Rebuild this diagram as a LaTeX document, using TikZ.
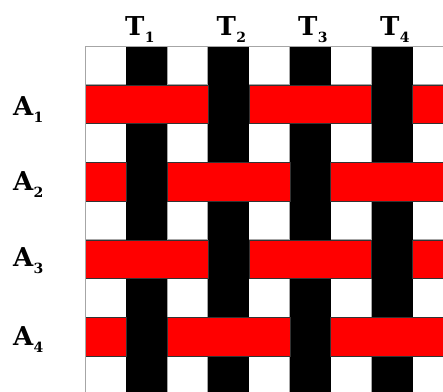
\documentclass[tikz,border=0pt]{standalone}
\usepackage{fontspec}
\setmainfont{DejaVu Serif}
\newcommand{\wlab}[2]{#1\kern0.3pt\raisebox{-7pt}{\fontsize{14}{14}\selectfont #2}}
\tikzset{
  cellline/.style={draw=gray!70, line width=0.8pt, fill=white},
  warp/.style={fill=black},
  weft/.style={fill=red, draw=black!80, line width=0.5pt},
  lab/.style={anchor=base west, inner sep=0pt, font=\fontsize{26}{26}\selectfont\bfseries}
}
\begin{document}
\begin{tikzpicture}[x=1pt,y=-1pt]
\useasboundingbox (0,0) rectangle (443,391);
\def\cw{40.95}
\def\rh{38.75}
\begin{scope}
\clip (0,0) rectangle (443,391);
\foreach \i in {0,...,8} \foreach \j in {0,...,8}
  \draw[cellline] ({85+\i*\cw},{46+\j*\rh}) rectangle ++(\cw,\rh);
\foreach \i in {1,3,5,7}
  \fill[warp] ({85+\i*\cw},46) rectangle ++(\cw,{9*\rh});
\foreach \j in {1,5}
  \foreach \a/\b in {0/3,4/7,8/11}
    \draw[weft] ({85+\a*\cw},{46+\j*\rh}) rectangle ({85+\b*\cw},{46+(\j+1)*\rh});
\foreach \j in {3,7}
  \foreach \a/\b in {0/1,2/5,6/9}
    \draw[weft] ({85+\a*\cw},{46+\j*\rh}) rectangle ({85+\b*\cw},{46+(\j+1)*\rh});
\draw[draw=gray!70, line width=0.8pt] (85,391) -- (85,46) -- (443,46);
\end{scope}
\node[lab] (t1) at (125,35.7) {\wlab{T}{1}};
\node[lab] (t2) at (216.5,35.7) {\wlab{T}{2}};
\node[lab] (t3) at (298,35.7) {\wlab{T}{3}};
\node[lab] (t4) at (380,35.7) {\wlab{T}{4}};
\node[lab] (a1) at (13,115) {\wlab{A}{1}};
\node[lab] (a2) at (13,190) {\wlab{A}{2}};
\node[lab] (a3) at (13,266.5) {\wlab{A}{3}};
\node[lab] (a4) at (13,345) {\wlab{A}{4}};
\end{tikzpicture}
\end{document}
